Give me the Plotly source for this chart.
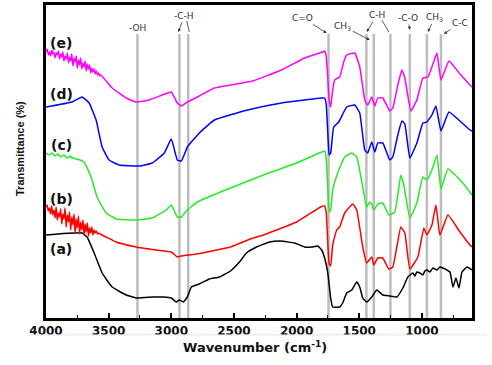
import plotly.graph_objects as go

# ---------------- data (wavenumber cm^-1, transmittance arb. units) ----------------
wn_e = [4000, 3990, 3981, 3972, 3963, 3954, 3946, 3937, 3928, 3919, 3910, 3901, 3892, 3883, 3874, 3866,
        3857, 3848, 3839, 3830, 3821, 3812, 3803, 3794, 3785, 3776, 3768, 3759, 3750, 3741, 3732, 3723,
        3714, 3705, 3696, 3688, 3679, 3670, 3661, 3652, 3643, 3634, 3625, 3616, 3607, 3598, 3589, 3580,
        3571, 3562, 3472, 3360, 3280, 3176, 3072, 3000, 2952, 2920, 2872, 2856,
        2776, 2656, 2352, 2120, 1936, 1792, 1776, 1764, 1752, 1740, 1728, 1712, 1696, 1656, 1624, 1600,
        1536, 1496, 1472, 1456, 1432, 1400, 1376, 1352, 1312, 1256, 1232, 1192, 1160, 1136, 1088, 1040,
        992, 952, 920, 880, 848, 784, 696, 616, 600]
t_e = [266, 269, 263, 266, 262, 268, 264, 266, 260, 265, 263, 267, 259, 264, 261, 266,
       257, 262, 259, 265, 255, 261, 257, 264, 252, 260, 256, 262, 250, 258, 253, 260,
       249, 255, 251, 257, 247, 254, 249, 253, 245, 250, 246, 249, 244, 247, 243, 245,
       242, 243, 230, 220, 216, 218, 223, 226, 215, 212, 216, 217,
       222, 230, 237, 248, 260, 266, 267, 262, 243, 218, 211, 228, 238, 241, 256, 263,
       265, 251, 231, 218, 213, 221, 212, 220, 220, 207, 210, 233, 248, 240, 207, 218,
       240, 241, 251, 265, 238, 257, 244, 233, 231]

wn_d = [4000, 3792, 3712, 3656, 3600, 3552, 3496, 3416, 3256, 3152, 3056, 3000, 2952, 2920, 2888, 2872,
        2776, 2656, 2392, 2120, 1800, 1776, 1764, 1752, 1740, 1728, 1704, 1664, 1600, 1536, 1496, 1456,
        1432, 1400, 1376, 1352, 1312, 1256, 1232, 1192, 1160, 1136, 1096, 1040, 992, 960, 920, 888,
        848, 784, 688, 616, 600]
t_d = [211, 216, 221, 215, 198, 171, 158, 153, 152, 155, 165, 179, 158, 157, 166, 171,
       185, 198, 208, 215, 220, 220, 214, 188, 163, 165, 191, 196, 211, 213, 205, 168,
       165, 176, 166, 175, 175, 158, 161, 183, 197, 194, 160, 175, 195, 196, 203, 212,
       187, 206, 196, 188, 187]

wn_c = [4000, 3976, 3952, 3928, 3904, 3880, 3856, 3832, 3808, 3792, 3760, 3728, 3696, 3640, 3592, 3520,
        3440, 3280, 3152, 3040, 3000, 2952, 2920, 2880, 2792, 2528, 2264, 2000, 1800, 1776, 1764, 1752,
        1740, 1728, 1712, 1672, 1616, 1560, 1520, 1472, 1440, 1416, 1400, 1384, 1352, 1312, 1264, 1216,
        1168, 1144, 1096, 1040, 992, 960, 920, 880, 848, 792, 680, 600]
t_c = [165, 163, 165, 162, 164, 161, 163, 160, 162, 160, 159, 158, 156, 141, 121, 105,
       99, 98, 100, 108, 113, 101, 101, 107, 116, 130, 143, 155, 166, 167, 160, 133,
       106, 108, 128, 145, 161, 165, 161, 131, 111, 116, 114, 108, 114, 115, 103, 106,
       143, 133, 100, 115, 141, 138, 148, 163, 129, 149, 136, 123]

wn_b = [4000, 3991, 3982, 3973, 3964, 3955, 3946, 3937, 3928, 3919, 3910, 3901, 3892, 3883, 3874, 3866,
        3857, 3848, 3839, 3830, 3821, 3812, 3803, 3794, 3785, 3776, 3768, 3759, 3750, 3741, 3732, 3723,
        3714, 3705, 3696, 3688, 3679, 3670, 3661, 3652, 3643, 3634, 3625, 3616, 3607, 3598, 3589, 3580,
        3568, 3440, 3280, 3120, 3000, 2952, 2920, 2800, 2528, 2368, 2264, 2000,
        1808, 1776, 1764, 1752, 1740, 1728, 1712, 1680, 1656, 1616, 1552, 1520, 1472, 1440, 1400, 1384,
        1352, 1312, 1264, 1232, 1168, 1136, 1096, 1032, 984, 960, 920, 888, 856, 792, 696, 616, 600]
t_b = [111, 113, 107, 110, 104, 112, 103, 108, 100, 111, 98, 105, 101, 109, 94, 104,
       99, 110, 91, 103, 96, 106, 88, 101, 93, 104, 85, 99, 90, 102, 84, 96,
       88, 98, 83, 94, 86, 95, 82, 90, 85, 91, 83, 88, 85, 87, 84, 85,
       84, 76, 71, 68, 66, 61, 62, 64, 71, 79, 83, 96,
       111, 112, 106, 78, 54, 52, 73, 88, 91, 105, 114, 108, 71, 55, 61, 53,
       60, 60, 49, 51, 91, 85, 49, 61, 90, 83, 93, 113, 83, 103, 86, 73, 71]

wn_a = [4000, 3712, 3672, 3616, 3552, 3472, 3360, 3272, 3144, 3064, 3000, 2960, 2936, 2904, 2872, 2840,
        2776, 2696, 2616, 2528, 2456, 2400, 2320, 2216, 2128, 2016, 1936, 1880, 1832, 1800, 1776, 1752,
        1728, 1712, 1656, 1632, 1600, 1560, 1520, 1496, 1472, 1440, 1400, 1360, 1312, 1256, 1200, 1152,
        1112, 1072, 1056, 1040, 1016, 992, 976, 960, 936, 912, 880, 856, 832, 800, 776, 752, 728, 704,
        680, 640, 600]
t_a = [83, 85, 81, 65, 45, 31, 23, 20, 21, 21, 20, 16, 18, 16, 21, 31,
       34, 39, 41, 47, 56, 65, 71, 76, 77, 75, 71, 71, 72, 68, 60, 46,
       20, 11, 11, 15, 25, 28, 36, 31, 20, 16, 21, 28, 23, 22, 21, 30,
       41, 45, 42, 46, 45, 43, 47, 48, 46, 50, 48, 51, 50, 48, 46, 31, 40, 30,
       46, 51, 48]

series_names = ["(a)", "(b)", "(c)", "(d)", "(e)"]
series_colors = ["#000000", "#ff0000", "#22ee22", "#0000ff", "#ff00ff"]
series_x = [wn_a, wn_b, wn_c, wn_d, wn_e]
series_y = [t_a, t_b, t_c, t_d, t_e]
label_y = [69, 119, 173, 224, 275]
label_wn = 3880

band_wavenumbers = [3270, 2935, 2865, 1745, 1443, 1384, 1251, 1096, 960, 848]
band_top = 284

x_ticks = [4000, 3500, 3000, 2500, 2000, 1500, 1000]

# group labels with arrow: (text, label wn, label value, arrow-head wn, arrow-head value)
group_labels = [
    ("-C-H", 2896, 302, 2944, 286),
    ("C=O", 1952, 300, 1760, 285),
    ("CH<sub>3</sub>", 1632, 292, 1416, 278),
    ("C-H", 1360, 303, 1440, 286),
    ("-C-O", 1112, 300, 1096, 288),
    ("CH<sub>3</sub>", 896, 301, 952, 286),
    ("C-C", 696, 295, 824, 284),
]
plain_labels = [("-OH", 3272, 290)]
# secondary arrows: (tail wn, tail value, head wn, head value)
extra_arrows = [
    (2876, 297, 2856, 286),
    (1320, 298, 1264, 286),
]

# ---------------- figure ----------------
fig = go.Figure()

for name, col, xs, ys in zip(series_names, series_colors, series_x, series_y):
    fig.add_trace(go.Scatter(x=xs, y=ys, mode="lines", name=name,
                             line=dict(color=col, width=1.5, shape="spline", smoothing=0.35),
                             showlegend=False, hoverinfo="skip"))

for wn in band_wavenumbers:
    fig.add_shape(type="line", xref="x", yref="y", x0=wn, x1=wn, y0=0, y1=band_top,
                  line=dict(color="#bdbdbd", width=2.5), layer="below")

for name, yv in zip(series_names, label_y):
    fig.add_annotation(x=label_wn, y=yv, xref="x", yref="y", text="<b>%s</b>" % name,
                       showarrow=False, font=dict(family="DejaVu Sans", size=14, color="#111"))

for txt, wn, v in plain_labels:
    fig.add_annotation(x=wn, y=v, xref="x", yref="y", text=txt, showarrow=False,
                       font=dict(family="DejaVu Sans", size=9, color="#333"))

for txt, wn, v, hx, hy in group_labels:
    fig.add_annotation(x=hx, y=hy, ax=wn, ay=v, xref="x", yref="y", axref="x", ayref="y",
                       text=txt, showarrow=True, arrowhead=2, arrowsize=0.8, arrowwidth=0.8,
                       arrowcolor="#333", standoff=0,
                       font=dict(family="DejaVu Sans", size=9, color="#333"))

for tx, ty, hx, hy in extra_arrows:
    fig.add_shape(type="line", xref="x", yref="y", x0=tx, y0=ty, x1=hx, y1=hy,
                  line=dict(color="#333", width=0.8))

fig.add_annotation(x=0.49, y=-0.093, xref="paper", yref="paper", xanchor="center", yanchor="middle",
                   text="<b>Wavenumber (cm<sup>-1</sup>)</b>", showarrow=False,
                   font=dict(family="DejaVu Sans", size=13, color="#111"))
fig.add_annotation(x=-0.061, y=0.54, xref="paper", yref="paper", textangle=-90,
                   xanchor="center", yanchor="middle",
                   text="<b>Transmittance (%)</b>", showarrow=False,
                   font=dict(family="Liberation Sans", size=11, color="#111"))

fig.add_shape(type="line", xref="paper", yref="paper", x0=-0.042, x1=1.035, y0=-0.054, y1=-0.054,
              line=dict(color="#e2e2e2", width=1))

fig.update_xaxes(range=[4000, 600], tickvals=x_ticks, ticks="inside", ticklen=5, tickwidth=1.5,
                 tickcolor="black", showline=True, linecolor="black", linewidth=2.5, mirror=True,
                 showgrid=False, zeroline=False, automargin=False,
                 tickfont=dict(family="DejaVu Sans", size=12, color="#111", weight="bold"),
                 minor=dict(tickvals=[3750, 3250, 2750, 2250, 1750, 1250, 750], ticks="inside",
                            ticklen=3, tickwidth=1.2, tickcolor="black"))
fig.update_yaxes(range=[0, 313], showticklabels=False, ticks="", showline=True, linecolor="black",
                 linewidth=2.5, mirror=True, showgrid=False, zeroline=False, automargin=False)

fig.update_layout(width=492, height=365, margin=dict(l=46, r=20, t=5, b=47, autoexpand=False),
                  paper_bgcolor="white", plot_bgcolor="white", hovermode=False)

fig.write_html("out.html", config={"displayModeBar": False},
               post_script="document.body.style.margin='0';document.body.style.padding='0';"
                           "document.documentElement.style.overflow='hidden';")
